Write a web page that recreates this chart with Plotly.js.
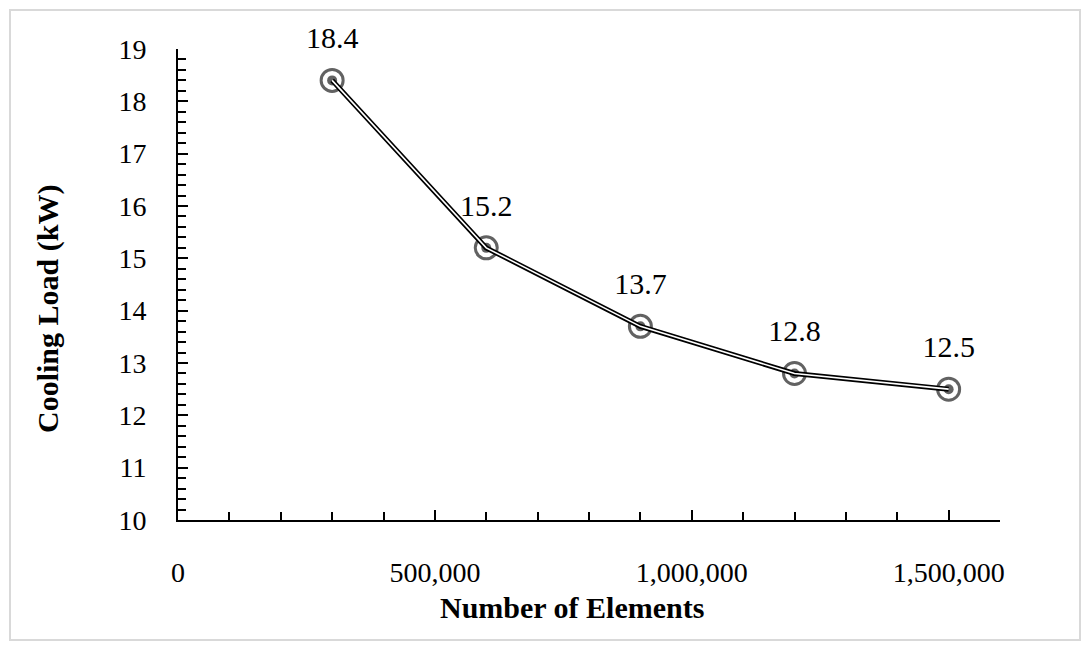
<!DOCTYPE html>
<html>
<head>
<meta charset="utf-8">
<script src="https://cdn.plot.ly/plotly-3.0.1.min.js"></script>
<style>
  html, body { margin: 0; padding: 0; background: #fff; }
  #chart { width: 1090px; height: 650px; }
</style>
</head>
<body>
<div id="chart"></div>
<script>
// ---- data ----
const elements = [300000, 600000, 900000, 1200000, 1500000];
const coolingLoad = [18.4, 15.2, 13.7, 12.8, 12.5];
const labels = ["18.4", "15.2", "13.7", "12.8", "12.5"];
const xTitle = "Number of Elements";
const yTitle = "Cooling Load (kW)";

const serif = "Liberation Serif, Times New Roman, serif";
const ringColor = "rgba(70,70,70,0.85)";

const traces = [
  { // outer ring marker
    x: elements, y: coolingLoad, mode: "markers", hoverinfo: "skip", showlegend: false, cliponaxis: false,
    marker: { symbol: "circle", size: 22, color: "#ffffff", line: { color: ringColor, width: 3 } }
  },
  { // inner dot
    x: elements, y: coolingLoad, mode: "markers", hoverinfo: "skip", showlegend: false, cliponaxis: false,
    marker: { symbol: "circle", size: 10, color: ringColor, line: { width: 0 } }
  },
  { // outer black line
    x: elements, y: coolingLoad, mode: "lines", showlegend: false, cliponaxis: false,
    line: { color: "#000000", width: 5 }
  },
  { // inner white line (double-line effect)
    x: elements, y: coolingLoad, mode: "lines", showlegend: false, hoverinfo: "skip", cliponaxis: false,
    line: { color: "#ffffff", width: 1.6 }
  },
  { // data labels
    x: elements, y: coolingLoad, mode: "markers+text", showlegend: false, hoverinfo: "skip",
    cliponaxis: false,
    text: labels, textposition: "top center",
    textfont: { family: serif, size: 30, color: "#000" },
    marker: { size: 38, opacity: 0 }
  }
];

const layout = {
  width: 1090, height: 650,
  margin: { l: 178, r: 90, t: 49, b: 130 },
  paper_bgcolor: "#ffffff", plot_bgcolor: "#ffffff",
  font: { family: serif, size: 28, color: "#000" },
  showlegend: false,
  xaxis: {
    range: [0, 1600000],
    tickvals: [0, 500000, 1000000, 1500000],
    tickformat: ",d",
    ticks: "inside", ticklen: 10, tickwidth: 2, tickcolor: "#000",
    minor: { tickvals: [100000,200000,300000,400000,600000,700000,800000,900000,1100000,1200000,1300000,1400000,1600000], ticks: "inside", ticklen: 8, tickwidth: 2, tickcolor: "#000" },
    showline: true, linecolor: "#000", linewidth: 2,
    showgrid: false, zeroline: false,
    ticklabelstandoff: 26,
    tickfont: { family: serif, size: 28, color: "#000" }
  },
  yaxis: {
    range: [10, 19],
    dtick: 1, tick0: 10,
    ticks: "inside", ticklen: 10, tickwidth: 2, tickcolor: "#000",
    minor: { dtick: 0.2, ticks: "inside", ticklen: 8, tickwidth: 2, tickcolor: "#000" },
    showline: true, linecolor: "#000", linewidth: 2,
    showgrid: false, zeroline: false,
    ticklabelstandoff: 24,
    tickfont: { family: serif, size: 28, color: "#000" }
  },
  annotations: [
    { text: "<b>" + xTitle + "</b>", xref: "paper", yref: "paper",
      x: (572 - 178) / 822, y: (520 - 607) / 471, xanchor: "center", yanchor: "middle",
      showarrow: false, font: { family: serif, size: 30, color: "#000" } },
    { text: "<b>" + yTitle + "</b>", xref: "paper", yref: "paper",
      x: (48 - 178) / 822, y: (520 - 309) / 471, xanchor: "center", yanchor: "middle",
      textangle: -90, showarrow: false, font: { family: serif, size: 30, color: "#000" } }
  ],
  shapes: [
    { type: "rect", xref: "paper", yref: "paper",
      x0: (10 - 178) / 822, x1: (1080 - 178) / 822,
      y0: (520 - 640) / 471, y1: (520 - 10) / 471,
      line: { color: "#d9d9d9", width: 2 }, fillcolor: "rgba(0,0,0,0)", layer: "below" }
  ]
};

Plotly.newPlot("chart", traces, layout, { displayModeBar: false, staticPlot: true });
</script>
</body>
</html>
